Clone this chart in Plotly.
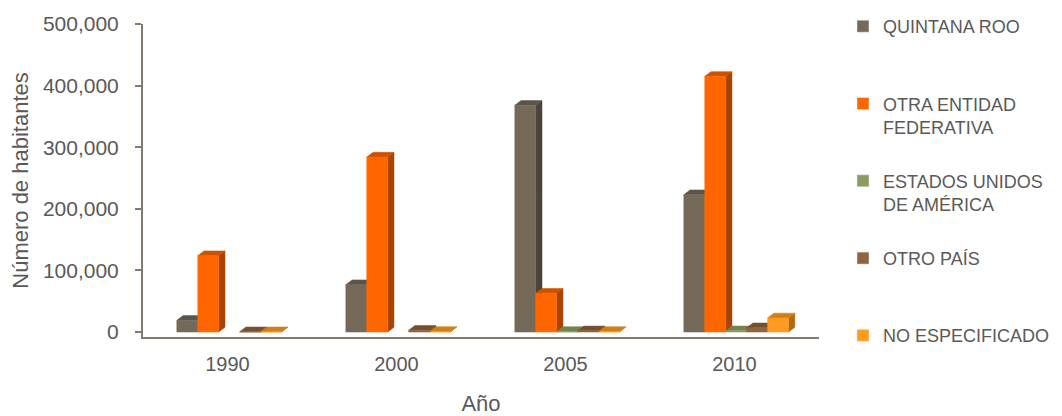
import plotly.graph_objects as go

# data (Excel 3D column chart)
years = ["1990", "2000", "2005", "2010"]
series_names = ["QUINTANA ROO", "OTRA ENTIDAD<br>FEDERATIVA", "ESTADOS UNIDOS<br>DE AMÉRICA",
                "OTRO PAÍS", "NO ESPECIFICADO"]
quintana_roo = [19000, 77000, 368000, 223000]
otra_entidad = [124000, 284000, 63000, 415000]
estados_unidos = [None, None, 1000, 2000]
otro_pais = [500, 3000, 2000, 7000]
no_especificado = [500, 1000, 1000, 23000]
values = [quintana_roo, otra_entidad, estados_unidos, otro_pais, no_especificado]

front = ["#756A5A", "#FF6600", "#8C9A64", "#8E6540", "#FF9A22"]
side = ["#4B443A", "#A84300", "#5E6A40", "#5E4128", "#B06A10"]
top = ["#5C5448", "#CC5200", "#74824E", "#755030", "#D07E18"]

w = 0.124      # bar width in category units
dx = 0.037     # fake depth, x
dy = 7700      # fake depth, y
shift = 0.01

fig = go.Figure()


def poly(pts_list):
    xs, ys = [], []
    for pts in pts_list:
        for px, py in pts + [pts[0]]:
            xs.append(px)
            ys.append(py)
        xs.append(None)
        ys.append(None)
    return xs, ys


for j, vals in enumerate(values):
    fronts, sides, tops = [], [], []
    for i, v in enumerate(vals):
        if v is None:
            continue
        xl = i + shift + (j - 2.5) * w
        xr = xl + w
        fronts.append([(xl, 0), (xr, 0), (xr, v), (xl, v)])
        sides.append([(xr, 0), (xr + dx, dy), (xr + dx, v + dy), (xr, v)])
        tops.append([(xl, v), (xl + dx, v + dy), (xr + dx, v + dy), (xr, v)])
    for pts, col in [(sides, side[j]), (tops, top[j]), (fronts, front[j])]:
        xs, ys = poly(pts)
        fig.add_trace(go.Scatter(x=xs, y=ys, mode="lines", fill="toself", fillcolor=col,
                                 line=dict(color=col, width=0.5), showlegend=False,
                                 hoverinfo="skip"))

# legend entries
for j, name in enumerate(series_names):
    label = name if "<br>" in name else name + "<br> "
    fig.add_trace(go.Bar(x=[None], y=[None], name=label, marker_color=front[j],
                         legendgroup=str(j)))

font_col = "#595959"
axis_col = "#857B6C"

# page body adds an 8px margin, so the figure is 8px smaller than the window
W, H = 1054, 408

fig.update_layout(
    width=W, height=H,
    margin=dict(l=135, r=243, t=16, b=79, autoexpand=False),
    plot_bgcolor="white", paper_bgcolor="white",
    font=dict(family="Liberation Sans, Arial, sans-serif", color=font_col, size=18),
    legend=dict(xref="container", yref="container", x=835 / W, y=1 + 4 / H,
                xanchor="left", yanchor="top", valign="top", maxheight=1.0,
                tracegroupgap=27.5, font=dict(size=18, color=font_col)),
    xaxis=dict(range=[-0.5, 3.5], tickvals=[0, 1, 2, 3], ticktext=years,
               showline=True, linecolor=axis_col, linewidth=2, showgrid=False,
               zeroline=False, ticks="", ticklabelstandoff=8,
               tickfont=dict(size=20),
               title=dict(text="Año", font=dict(size=22), standoff=22)),
    yaxis=dict(range=[-8000, 500000], tickvals=[0, 100000, 200000, 300000, 400000, 500000],
               tickformat=",", showline=True, linecolor=axis_col, linewidth=2,
               ticks="outside", ticklen=6, tickcolor=axis_col, tickwidth=2,
               showgrid=False, zeroline=False, ticklabelstandoff=12,
               tickfont=dict(size=21),
               title=dict(text="Número de habitantes", font=dict(size=22), standoff=10)),
)

fig.write_html("out.html")
